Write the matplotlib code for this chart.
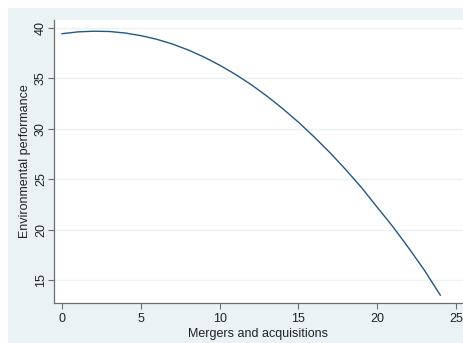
import matplotlib

matplotlib.use("Agg")
import matplotlib.pyplot as plt
from matplotlib.patches import Rectangle

# fitted curve
mergers = [0, 1, 2, 3, 4, 5, 6, 7, 8, 9, 10, 11, 12,
           13, 14, 15, 16, 17, 18, 19, 20, 21, 22, 23, 24]
env_perf = [39.43, 39.61, 39.68, 39.65, 39.50, 39.24, 38.88, 38.41, 37.82,
            37.12, 36.31, 35.40, 34.38, 33.24, 32.00, 30.65, 29.19, 27.63,
            25.95, 24.17, 22.21, 20.27, 18.16, 15.95, 13.50]
xticks = [0, 5, 10, 15, 20, 25]
yticks = [15, 20, 25, 30, 35, 40]

BG = "#EAF2F3"
NAVY = "#245786"
AXC = "#6E6E6E"

plt.rcParams["font.family"] = ["Liberation Sans", "DejaVu Sans"]

fig = plt.figure(figsize=(4.64, 3.43), dpi=100)
fig.patch.set_facecolor("white")
fig.add_artist(
    Rectangle((8 / 464, 0), 1, 1 - 8 / 343, transform=fig.transFigure,
              facecolor=BG, edgecolor="none", zorder=-10)
)

ax = fig.add_axes([54 / 464, 40 / 343, 409 / 464, 283 / 343])
ax.set_zorder(1)
ax.set_facecolor("white")
ax.plot(mergers, env_perf, color=NAVY, lw=1.0)

ax.set_xlim(-0.51, 25.44)
ax.set_ylim(12.72, 40.79)
ax.set_xticks(xticks)
ax.set_yticks(yticks)
ax.grid(axis="y", color=BG, lw=1.0)
ax.set_axisbelow(True)

for s in ["top", "right"]:
    ax.spines[s].set_visible(False)
for s in ["left", "bottom"]:
    ax.spines[s].set_color(AXC)
    ax.spines[s].set_linewidth(0.9)

ax.tick_params(axis="both", color=AXC, length=4.5, width=0.8,
               labelsize=9, labelcolor="#222222")
ax.tick_params(axis="x", pad=2.5)
ax.tick_params(axis="y", pad=0.5)
for lab in ax.get_yticklabels():
    lab.set_rotation(90)
    lab.set_va("center")

ax.set_xlabel("Mergers and acquisitions", fontsize=9, color="#222222", labelpad=2)
ax.set_ylabel("Environmental performance", fontsize=9, color="#222222", labelpad=3)

fig.savefig("out.png", dpi=100, facecolor="white")
